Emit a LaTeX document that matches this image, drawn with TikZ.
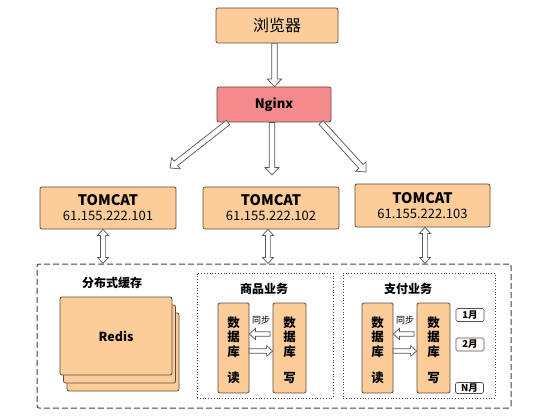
\documentclass[tikz,border=0pt]{standalone}
\usepackage{fontspec}
\setmainfont{Noto Sans CJK SC}
\usetikzlibrary{calc}
\definecolor{boxfill}{HTML}{FCCC99}
\definecolor{boxdraw}{HTML}{5E4B3C}
\definecolor{ngfill}{HTML}{F38B8D}
\definecolor{arrdraw}{HTML}{555555}
\definecolor{framedraw}{HTML}{404040}
\tikzset{
  obox/.style={draw=boxdraw, fill=boxfill, line width=0.8pt, rounded corners=2pt, inner sep=0pt},
  arrshape/.style={draw=arrdraw, fill=white, line width=0.7pt, line join=miter},
  mbox/.style={draw=boxdraw, line width=0.7pt, rounded corners=1.5pt, minimum width=28pt, minimum height=13pt, inner sep=0pt, font=\bfseries\fontsize{9.5}{9.5}\selectfont},
  lbl/.style={font=\bfseries\fontsize{12}{12}\selectfont},
  dbtxt/.style={font=\bfseries\fontsize{12.5}{14.5}\selectfont, align=center},
}
% single block arrow: from, to, half shaft, half head, head length
\newcommand\blkarrow[5]{%
  \draw[arrshape] let \p1=(#1), \p2=(#2), \n1={atan2(\y2-\y1,\x2-\x1)}, \n2={veclen(\x2-\x1,\y2-\y1)} in
    [shift={(\p1)}, rotate=\n1]
    (0,#3) -- (\n2-#5,#3) -- (\n2-#5,#4) -- (\n2,0) -- (\n2-#5,-#4) -- (\n2-#5,-#3) -- (0,-#3) -- cycle;}
% double block arrow
\newcommand\dblkarrow[5]{%
  \draw[arrshape] let \p1=(#1), \p2=(#2), \n1={atan2(\y2-\y1,\x2-\x1)}, \n2={veclen(\x2-\x1,\y2-\y1)} in
    [shift={(\p1)}, rotate=\n1]
    (0,0) -- (#5,#4) -- (#5,#3) -- (\n2-#5,#3) -- (\n2-#5,#4) -- (\n2,0) -- (\n2-#5,-#4) -- (\n2-#5,-#3) -- (#5,-#3) -- (#5,-#4) -- cycle;}
\begin{document}
\begin{tikzpicture}[x=1pt, y=-1pt]
\useasboundingbox (0,0) rectangle (558,420);
% top nodes
\node[obox, minimum width=122pt, minimum height=35pt, font=\fontsize{16}{16}\selectfont] (browser) at (277,25.5) {浏览器};
\node[obox, fill=ngfill, minimum width=114pt, minimum height=35pt, font=\bfseries\fontsize{13}{13}\selectfont] (nginx) at (274,104.5) {Nginx};
% tomcats
\node[obox, minimum width=136pt, minimum height=42pt, align=center, font=\fontsize{13}{15}\selectfont] (t1) at (108,208) {\textbf{\fontsize{14.5}{15}\selectfont TOMCAT}\\61.155.222.101};
\node[obox, minimum width=136pt, minimum height=42pt, align=center, font=\fontsize{13}{15}\selectfont] (t2) at (271,208) {\textbf{\fontsize{14.5}{15}\selectfont TOMCAT}\\61.155.222.102};
\node[obox, minimum width=135pt, minimum height=43pt, align=center, font=\fontsize{13}{15}\selectfont] (t3) at (422.5,205.5) {\textbf{\fontsize{14.5}{15}\selectfont TOMCAT}\\61.155.222.103};
% arrows from top
\coordinate (nl) at (228,122.5);
\coordinate (nm) at (272,122.5);
\coordinate (nr) at (321,122.5);
\coordinate (tl) at (170,168);
\coordinate (tm) at (272,175);
\coordinate (tr) at (366,172);
\blkarrow{[xshift=-2.5pt]browser.south}{[xshift=-2.5pt]browser.south |- nginx.north}{2.8}{7}{7.5}
\blkarrow{nl}{tl}{2.8}{7}{7.5}
\blkarrow{nm}{tm}{2.8}{7}{7.5}
\blkarrow{nr}{tr}{2.8}{7}{7.5}
% outer dashed container
\node[draw=framedraw, line width=1pt, dash pattern=on 6pt off 3pt, rounded corners=2pt, minimum width=474pt, minimum height=144pt, inner sep=0pt] (outer) at (274,336) {};
\dblkarrow{[xshift=-5pt]t1.south}{[xshift=-5pt]t1.south |- outer.north}{2.6}{5.5}{6}
\dblkarrow{[xshift=-3pt]t2.south}{[xshift=-3pt]t2.south |- outer.north}{2.6}{5.5}{6}
\dblkarrow{[xshift=2.5pt]t3.south}{[xshift=2.5pt]t3.south |- outer.north}{2.6}{5.5}{6}
% cache
\node[lbl] (cachelbl) at (112,283) {分布式缓存};
\node[obox, minimum width=112pt, minimum height=78pt] (r3) at (123,352) {};
\node[obox, minimum width=112pt, minimum height=78pt] (r2) at (119.5,344) {};
\node[obox, minimum width=112pt, minimum height=78pt, font=\bfseries\fontsize{12.5}{12.5}\selectfont] (r1) at (116,336) {Redis};
% goods
\node[draw=framedraw, dotted, line width=0.8pt, minimum width=136pt, minimum height=125pt, inner sep=0pt] (goods) at (265,335.5) {};
\node[lbl] (goodslbl) at (264,289) {商品业务};
\node[obox, minimum width=31pt, minimum height=90pt] (gread) at (233.5,348) {};
\node[obox, minimum width=33pt, minimum height=90pt] (gwrite) at (289.5,348) {};
\node[dbtxt, anchor=north] (gr1) at (233.5,313) {数\\据\\库};
\node[dbtxt] (gr2) at (233.5,378) {读};
\node[dbtxt, anchor=north] (gw1) at (289.5,313) {数\\据\\库};
\node[dbtxt] (gw2) at (289.5,378) {写};
\node[font=\fontsize{9}{9}\selectfont] (gsync) at (261,320) {同步};
\coordinate (gsl) at (270,334);
\coordinate (gsr) at (249,351);
\blkarrow{gsl}{gsl -| gread.east}{2.2}{5.5}{6}
\blkarrow{gsr}{gsr -| gwrite.west}{2.2}{5.5}{6}
% pay
\node[draw=framedraw, dotted, line width=0.8pt, minimum width=152pt, minimum height=125pt, inner sep=0pt] (pay) at (419,335.5) {};
\node[lbl] (paylbl) at (408,289) {支付业务};
\node[obox, minimum width=31pt, minimum height=90pt] (pread) at (377.5,348) {};
\node[obox, minimum width=33pt, minimum height=90pt] (pwrite) at (433.5,348) {};
\node[dbtxt, anchor=north] (pr1) at (377.5,313) {数\\据\\库};
\node[dbtxt] (pr2) at (377.5,378) {读};
\node[dbtxt, anchor=north] (pw1) at (433.5,313) {数\\据\\库};
\node[dbtxt] (pw2) at (433.5,378) {写};
\node[font=\fontsize{9}{9}\selectfont] (psync) at (405,320) {同步};
\coordinate (psl) at (414,334);
\coordinate (psr) at (393,351);
\blkarrow{psl}{psl -| pread.east}{2.2}{5.5}{6}
\blkarrow{psr}{psr -| pwrite.west}{2.2}{5.5}{6}
\node[mbox] (m1) at (470,315) {1月};
\node[mbox] (m2) at (470,344.5) {2月};
\node[mbox, minimum height=11pt] (mn) at (469.5,388) {N月};
\end{tikzpicture}
\end{document}
